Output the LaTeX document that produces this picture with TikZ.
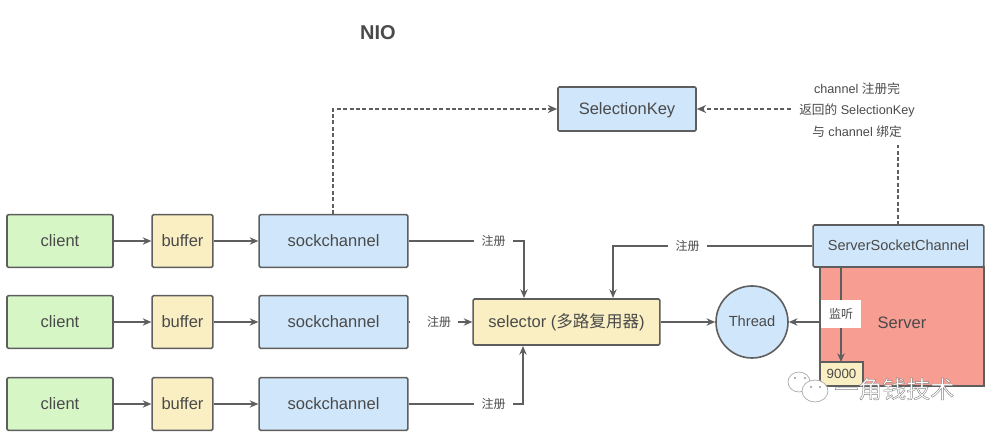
\documentclass[tikz,border=0pt]{standalone}
\usepackage{fontspec}
\setmainfont{Liberation Sans}
\newfontfamily\cjk{Noto Sans CJK SC}
\usetikzlibrary{arrows.meta,calc}
\definecolor{lineC}{HTML}{5E5E5E}
\definecolor{txtC}{HTML}{4A4A4A}
\definecolor{greenF}{HTML}{D6F6C6}
\definecolor{yellowF}{HTML}{FAEFC3}
\definecolor{blueF}{HTML}{D0E6FA}
\definecolor{redF}{HTML}{F89D92}
\tikzset{
  px/.style={x=0.75pt,y=-0.75pt},
  box/.style={draw=lineC,line width=1.2pt,rounded corners=1pt,minimum height=39.5pt,text=txtC,font=\fontsize{12.4}{14}\selectfont,inner sep=0pt,text height=11pt,text depth=2pt},
  clientbox/.style={box,fill=greenF,minimum width=79.5pt},
  bufferbox/.style={box,fill=yellowF,minimum width=45.5pt},
  sockbox/.style={box,fill=blueF,minimum width=111.5pt},
  conn/.style={draw=lineC,line width=1.05pt},
  arr/.style={conn,-{Stealth[length=6.5pt,width=5.5pt]}},
  dash1/.style={draw=lineC,line width=1.1pt,dash pattern=on 3pt off 2pt},
  dash2/.style={draw=lineC,line width=1.9pt,dash pattern=on 3pt off 1.8pt},
  reglabel/.style={text=txtC,font=\fontsize{9}{11}\selectfont\cjk,inner sep=0pt,minimum width=28.5pt,minimum height=10pt},
  note/.style={text=txtC,font=\fontsize{9.5}{16.3}\selectfont,align=center,inner sep=0pt},
}
\newcommand{\outlined}[1]{\special{pdf:code q 2 Tr 0.3 w 0.5 0.5 0.5 RG 1 1 1 rg}#1\special{pdf:code Q}}
\begin{document}
\begin{tikzpicture}[px]
\useasboundingbox (0,0) rectangle (1004,448);
\node[font=\fontsize{15}{17}\selectfont\bfseries,text=txtC,inner sep=0pt] (title) at (378,32.5) {NIO};

% row boxes
\foreach \n/\y in {1/241,2/322,3/404}{
  \node[clientbox] (c\n) at (60,\y) {client};
  \node[bufferbox] (b\n) at (182.5,\y) {buffer};
  \node[sockbox] (s\n) at (333.5,\y) {sockchannel};
  \draw[arr] (c\n) -- (b\n);
  \draw[arr] (b\n) -- (s\n);
}

\node[box,fill=yellowF,minimum width=140pt,minimum height=34.5pt] (sel) at (566.5,322) {selector ({\cjk 多路复用器})};
\node[box,fill=blueF,minimum width=103.5pt,minimum height=33pt] (key) at (627,109) {SelectionKey};
\node[box,fill=blueF,circle,minimum width=54pt,minimum height=54pt,font=\fontsize{11}{13}\selectfont,text height=8.6pt,text depth=2.4pt] (thread) at (752,322) {Thread};

\node[draw=lineC,line width=1.2pt,fill=redF,minimum width=123pt,minimum height=89pt,inner sep=0pt] (server) at (902,326.5) {};
\node[text=txtC,font=\fontsize{12.4}{14}\selectfont,inner sep=0pt] (serverT) at (902,322.5) {Server};
\node[box,fill=blueF,minimum width=128pt,minimum height=31.5pt,font=\fontsize{10.9}{13}\selectfont,text height=9.4pt,text depth=2.4pt] (ssc) at (898.5,246) {ServerSocketChannel};
\node[box,fill=yellowF,rounded corners=0pt,minimum width=32pt,minimum height=18pt,font=\fontsize{10}{11}\selectfont,text height=7pt,text depth=0.5pt] (port) at (841.5,374) {9000};

% register labels
\node[reglabel] (r1) at (493.5,241) {注册};
\node[reglabel,minimum width=36pt] (r2) at (434,322) {\hspace{7.5pt}注册};
\node[reglabel] (r3) at (493.5,404) {注册};
\node[reglabel,minimum width=29pt] (r4) at (687.5,246) {注册};
\coordinate (t1) at (524,298);
\coordinate (t3) at (523,346);
\coordinate (t4) at (613,298);
\draw[conn] (s1.east |- r1) -- (r1);
\draw[arr] (r1) -| (t1);
\draw[conn] (s2) -- (r2);
\draw[arr] (r2) -- (sel);
\draw[conn] (s3) -- (r3);
\draw[arr] (r3) -| (t3);
\draw[conn] (ssc.west |- r4) -- (r4);
\draw[arr] (r4) -| (t4);

\draw[arr] (sel) -- (thread);
\draw[arr] (server.west |- thread) -- (thread);

% listen
\coordinate (sscB) at (841,267);
\coordinate (portT) at (841,362);
\draw[arr] (sscB) -- (portT);
\node[fill=white,text=txtC,font=\fontsize{9}{11}\selectfont\cjk,inner sep=0pt,minimum width=29.5pt,minimum height=21pt] (ting) at (841,314) {监听};

% SelectionKey connectors
\coordinate (sockTop) at (333,214);
\draw[dash2,-{Stealth[length=7pt,width=6pt]}] (sockTop) |- (key.west);
\node[note] (nt) at (857,110) {channel {\cjk 注册完}\\{\cjk 返回的} SelectionKey\\{\cjk 与} channel {\cjk 绑定}};
\coordinate (ntE) at (791,109);
\coordinate (ntB) at (898,145);
\coordinate (sscT) at (898,225);
\draw[dash1,-{Stealth[length=7pt,width=6pt]}] (ntE) -- (key.east);
\draw[dash2,line width=1.5pt] (sscT) -- (ntB);

% watermark
\begin{scope}[draw=black!35,fill=white,line width=0.5pt]
\filldraw (799,382) ellipse (11 and 10);
\filldraw (815,391) ellipse (13 and 11);
\fill[black!40] (795,378) circle (1.2) (805,378) circle (1.2) (811,387) circle (1.2) (820,387) circle (1.2);
\end{scope}
\node[font=\fontsize{18}{20}\selectfont\cjk,inner sep=0pt,anchor=west] (wm) at (834,389) {\outlined{一角钱技术}};
\end{tikzpicture}
\end{document}
